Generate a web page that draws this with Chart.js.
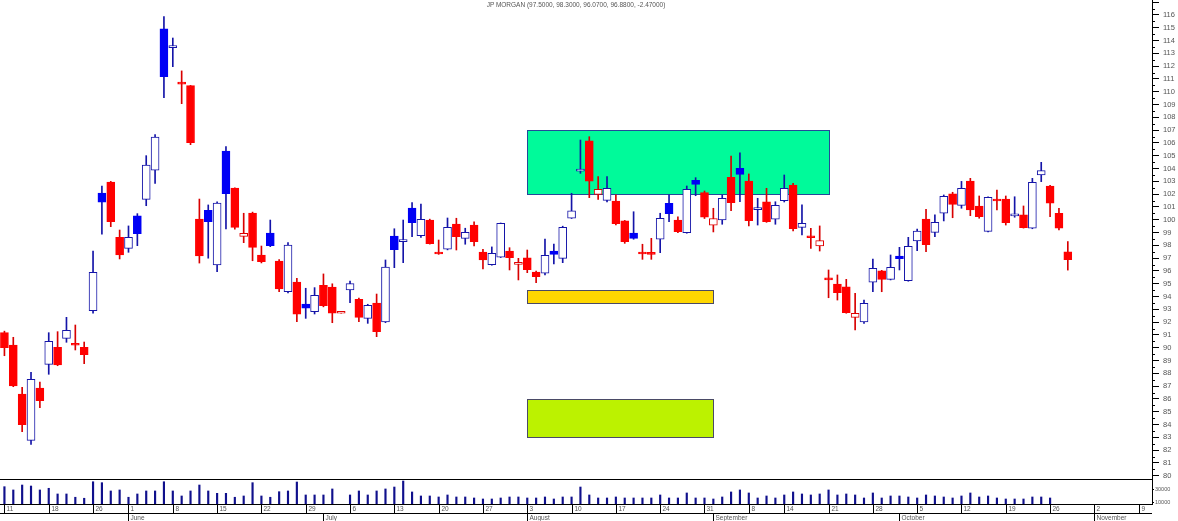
<!DOCTYPE html>
<html>
<head>
<meta charset="utf-8">
<title>JP MORGAN</title>
<script src="https://cdn.jsdelivr.net/npm/chart.js@4.4.1/dist/chart.umd.min.js"></script>
<style>
    html, body { margin: 0; padding: 0; background: #fff; }
    #wrap { position: relative; width: 1178px; height: 521px; overflow: hidden; }
    #priceChart { position: absolute; left: 0; top: 0; }
    #volumeChart { position: absolute; left: 0; top: 479px; }
    #title {
        position: absolute; left: 0; top: 1px; width: 1152px; text-align: center;
        font: 6.5px "Liberation Sans", Arial, sans-serif; color: #555; z-index: 2;
    }
</style>
</head>
<body>
<div id="wrap">
    <canvas id="priceChart" width="1178" height="490"></canvas>
    <canvas id="volumeChart" width="1178" height="42"></canvas>
    <div id="title"></div>
</div>
<script>
const stockName = "JP MORGAN";

const dates = [
    "2020-05-11", "2020-05-12", "2020-05-13", "2020-05-14", "2020-05-15",
    "2020-05-18", "2020-05-19", "2020-05-20", "2020-05-21", "2020-05-22",
    "2020-05-26", "2020-05-27", "2020-05-28", "2020-05-29",
    "2020-06-01", "2020-06-02", "2020-06-03", "2020-06-04", "2020-06-05",
    "2020-06-08", "2020-06-09", "2020-06-10", "2020-06-11", "2020-06-12",
    "2020-06-15", "2020-06-16", "2020-06-17", "2020-06-18", "2020-06-19",
    "2020-06-22", "2020-06-23", "2020-06-24", "2020-06-25", "2020-06-26",
    "2020-06-29", "2020-06-30", "2020-07-01", "2020-07-02", "2020-07-03",
    "2020-07-06", "2020-07-07", "2020-07-08", "2020-07-09", "2020-07-10",
    "2020-07-13", "2020-07-14", "2020-07-15", "2020-07-16", "2020-07-17",
    "2020-07-20", "2020-07-21", "2020-07-22", "2020-07-23", "2020-07-24",
    "2020-07-27", "2020-07-28", "2020-07-29", "2020-07-30", "2020-07-31",
    "2020-08-03", "2020-08-04", "2020-08-05", "2020-08-06", "2020-08-07",
    "2020-08-10", "2020-08-11", "2020-08-12", "2020-08-13", "2020-08-14",
    "2020-08-17", "2020-08-18", "2020-08-19", "2020-08-20", "2020-08-21",
    "2020-08-24", "2020-08-25", "2020-08-26", "2020-08-27", "2020-08-28",
    "2020-08-31", "2020-09-01", "2020-09-02", "2020-09-03", "2020-09-04",
    "2020-09-08", "2020-09-09", "2020-09-10", "2020-09-11",
    "2020-09-14", "2020-09-15", "2020-09-16", "2020-09-17", "2020-09-18",
    "2020-09-21", "2020-09-22", "2020-09-23", "2020-09-24", "2020-09-25",
    "2020-09-28", "2020-09-29", "2020-09-30", "2020-10-01", "2020-10-02",
    "2020-10-05", "2020-10-06", "2020-10-07", "2020-10-08", "2020-10-09",
    "2020-10-12", "2020-10-13", "2020-10-14", "2020-10-15", "2020-10-16",
    "2020-10-19", "2020-10-20", "2020-10-21", "2020-10-22", "2020-10-23",
    "2020-10-26", "2020-10-27", "2020-10-28", "2020-10-29", "2020-10-30",
    "2020-11-02", "2020-11-03", "2020-11-04", "2020-11-05", "2020-11-06",
    "2020-11-09", "2020-11-10"
];

const openPrice = [
    91.18, 90.22, 86.39, 82.77, 86.86, 88.71, 90.04, 90.74, 90.25, 90.04,
    92.9, 102.09, 102.95, 98.63, 97.77, 100.3, 101.6, 103.87, 114.91, 113.45,
    110.65, 110.48, 100.06, 100.74, 96.47, 105.37, 102.48, 98.71, 100.53, 97.25,
    98.97, 96.78, 94.38, 95.14, 93.42, 92.82, 94.88, 94.75, 92.7, 94.52,
    93.79, 92.3, 93.5, 92.02, 98.73, 98.3, 100.92, 98.76, 99.98, 97.37,
    97.7, 99.67, 98.55, 99.59, 97.48, 96.49, 97.07, 97.56, 96.52, 97.02,
    95.92, 95.82, 97.55, 96.99, 100.12, 103.8, 106.16, 101.99, 101.52, 101.47,
    99.91, 98.97, 97.37, 97.32, 98.48, 101.29, 99.98, 98.99, 103.09, 102.12,
    99.57, 99.98, 103.32, 104.02, 103.03, 100.8, 101.41, 100.04, 101.49, 102.72,
    99.41, 98.65, 97.95, 95.35, 94.98, 94.77, 92.38, 92.02, 95.12, 96.02,
    95.35, 97.17, 95.24, 98.34, 100.06, 99.02, 100.51, 102.02, 101.13, 103.03,
    101.08, 99.1, 101.52, 101.62, 100.3, 100.38, 99.34, 103.5, 102.64, 100.51,
    97.5
];

const highPrice = [
    91.3, 90.82, 86.91, 88.09, 87.33, 91.18, 91.26, 92.38, 91.78, 90.45,
    97.56, 102.64, 103.0, 99.2, 99.52, 100.48, 105.01, 106.65, 115.87, 114.2,
    111.63, 110.5, 101.62, 101.16, 101.41, 105.71, 102.5, 100.51, 100.6, 97.95,
    99.98, 96.9, 98.21, 95.43, 94.65, 94.7, 95.77, 95.0, 92.7, 95.22,
    93.88, 93.4, 94.2, 96.86, 99.3, 99.98, 101.34, 101.23, 100.05, 98.42,
    100.14, 100.12, 99.34, 99.85, 97.7, 97.88, 99.75, 97.82, 96.99, 97.64,
    96.0, 98.5, 98.11, 99.5, 102.07, 106.23, 106.49, 103.37, 103.37, 101.94,
    99.95, 100.63, 98.09, 98.55, 100.51, 101.94, 100.24, 102.64, 103.29, 102.25,
    100.9, 101.94, 104.98, 105.24, 103.58, 101.68, 102.46, 101.41, 103.5, 102.85,
    101.16, 99.33, 99.52, 96.08, 95.69, 95.35, 94.26, 93.73, 96.94, 96.05,
    97.25, 97.85, 98.63, 99.28, 100.82, 100.38, 101.94, 102.15, 103.0, 103.24,
    101.86, 101.8, 102.33, 101.86, 101.8, 101.08, 103.24, 104.49, 102.7, 100.9,
    98.3
];

const lowPrice = [
    89.38, 86.96, 83.45, 82.46, 85.32, 87.93, 88.6, 90.43, 89.83, 88.76,
    92.7, 98.87, 99.46, 96.94, 97.46, 97.98, 101.1, 102.85, 109.54, 111.96,
    109.07, 105.87, 96.62, 97.0, 95.95, 99.28, 99.26, 98.21, 96.8, 96.63,
    97.9, 94.38, 94.28, 92.04, 92.3, 92.64, 93.2, 91.96, 92.7, 93.52,
    92.04, 91.91, 90.87, 91.96, 96.26, 96.65, 98.68, 98.63, 98.1, 97.3,
    97.65, 97.64, 98.09, 97.95, 96.16, 96.45, 97.05, 96.08, 95.3, 95.87,
    95.09, 95.69, 96.55, 96.65, 100.1, 103.63, 101.73, 101.6, 101.39, 99.6,
    98.16, 98.48, 96.91, 96.91, 97.43, 99.85, 99.0, 98.95, 101.88, 100.1,
    99.05, 99.65, 100.71, 101.41, 99.52, 99.59, 99.8, 99.65, 101.39, 99.13,
    98.81, 97.77, 97.56, 93.91, 93.73, 92.7, 91.39, 91.91, 94.38, 94.38,
    95.3, 96.08, 95.2, 97.59, 97.51, 98.68, 99.91, 100.16, 100.9, 100.32,
    100.12, 99.05, 100.77, 99.59, 100.2, 99.35, 99.3, 102.98, 100.24, 99.2,
    96.07
];

const closePrice = [
    90.01, 87.02, 83.99, 87.54, 85.87, 90.51, 88.66, 91.37, 90.2, 89.46,
    95.9, 101.37, 99.85, 97.25, 98.63, 98.91, 104.28, 106.47, 111.18, 113.5,
    110.6, 106.02, 97.17, 99.85, 101.31, 102.04, 99.41, 98.95, 97.85, 96.73,
    97.98, 94.59, 98.03, 92.62, 93.09, 94.1, 93.29, 92.7, 92.7, 95.01,
    92.38, 93.32, 91.26, 96.31, 97.66, 98.35, 99.77, 100.04, 98.13, 97.33,
    99.41, 98.68, 99.02, 98.29, 96.86, 97.38, 99.73, 97.04, 96.68, 96.1,
    95.56, 97.23, 97.3, 99.41, 100.69, 103.85, 103.01, 102.38, 102.46, 99.7,
    98.29, 98.55, 97.33, 97.3, 100.12, 100.48, 99.07, 102.38, 102.77, 100.2,
    100.1, 101.68, 101.34, 103.55, 99.93, 100.84, 99.85, 101.13, 102.46, 99.3,
    99.73, 98.6, 98.37, 95.3, 94.3, 92.74, 92.7, 93.48, 96.21, 95.35,
    96.29, 96.96, 97.93, 99.12, 98.05, 99.8, 101.84, 101.21, 102.46, 100.77,
    100.24, 101.76, 101.47, 99.77, 100.34, 99.38, 102.93, 103.84, 101.29, 99.35,
    96.88
];

// volume in thousands of shares
const volume = [
    33900, 29000, 36400, 34900, 29000, 31500, 23000, 23000, 18100, 16600,
    41300, 39900, 27500, 29000, 18100, 23000, 27500, 27500, 41300, 27500,
    20000, 27500, 36400, 27500, 24000, 24000, 18100, 20000, 39900, 20000,
    18100, 26400, 27500, 40900, 21500, 21500, 21500, 30500, null, 21500,
    27500, 21500, 27500, 30500, 33400, 42400, 26000, 20000, 20000, 18500,
    21500, 18500, 18500, 17000, 15500, 15500, 17000, 18500, 18500, 17000,
    17000, 18500, 15500, 18500, 18500, 33400, 21500, 17000, 17000, 18500,
    17000, 17000, 17000, 17000, 21500, 17000, 17000, 24500, 17000, 17000,
    15500, 18500, 26000, 29000, 24500, 17000, 20000, 17000, 21500, 26000,
    23000, 21500, 23000, 29000, 21500, 23000, 21500, 17000, 24500, 17000,
    20000, 20000, 18500, 17000, 21500, 20000, 18500, 17000, 20000, 24500,
    18500, 20000, 17000, 15500, 15500, 15500, 18500, 18500, 17000, null,
    null
];

const priceTicks = [
    80, 81, 82, 83, 84, 85, 86, 87, 88, 89, 90, 91, 92, 93, 94, 95, 96, 97, 98,
    99, 100, 101, 102, 103, 104, 105, 106, 107, 108, 109, 110, 111, 112, 113,
    114, 115, 116, 117
];
const volumeTicks = [10000, 30000];

const monthNames = [
    "January", "February", "March", "April", "May", "June", "July",
    "August", "September", "October", "November", "December"
];

// boxes drawn on the price panel (index range, price range)
const zoneFrom = [59, 59, 59];
const zoneTo = [93, 80, 80];
const zoneLow = [102, 93.5, 83];
const zoneHigh = [107, 94.5, 86];

document.addEventListener("DOMContentLoaded", function () {
    const axisFont = "\"Liberation Sans\", Arial, sans-serif";
    const zoneColors = [
        { fill: "#00fa9a", line: "#24489a" },
        { fill: "#ffd700", line: "#4a4a66" },
        { fill: "#bcf200", line: "#4a4a66" }
    ];

    const last = closePrice.length - 1;
    document.getElementById("title").textContent = stockName + " (" +
        openPrice[last].toFixed(4) + ", " + highPrice[last].toFixed(4) + ", " +
        lowPrice[last].toFixed(4) + ", " + closePrice[last].toFixed(4) + ", " +
        (closePrice[last] - closePrice[last - 1]).toFixed(5) + ")";

    // hollow = closed above open, blue = closed above previous close
    const hollow = closePrice.map((c, i) => c >= openPrice[i]);
    const up = closePrice.map((c, i) => c > (i ? closePrice[i - 1] : openPrice[i]));
    const bodyFill = closePrice.map((c, i) => hollow[i] ? "#ffffff" : (up[i] ? "#0000f5" : "#ff0000"));
    const bodyLine = closePrice.map((c, i) => up[i] ? (hollow[i] ? "#1414a8" : "#0000f5") : (hollow[i] ? "#e00000" : "#ff0000"));
    const wickColor = closePrice.map((c, i) => up[i] ? "#1414a8" : "#d80000");

    const zonePlugin = {
        id: "zones",
        beforeDatasetsDraw(chart) {
            const ctx = chart.ctx;
            const xs = chart.scales.x;
            const ys = chart.scales.y;
            ctx.save();
            zoneFrom.forEach((from, k) => {
                const x0 = Math.round(xs.getPixelForValue(from)) + 0.5;
                const x1 = Math.round(xs.getPixelForValue(zoneTo[k])) + 0.5;
                const y0 = Math.round(ys.getPixelForValue(zoneHigh[k])) + 0.5;
                const y1 = Math.round(ys.getPixelForValue(zoneLow[k])) + 0.5;
                ctx.fillStyle = zoneColors[k].fill;
                ctx.fillRect(x0, y0, x1 - x0, y1 - y0);
                ctx.strokeStyle = zoneColors[k].line;
                ctx.lineWidth = 1;
                ctx.strokeRect(x0, y0, x1 - x0, y1 - y0);
            });
            ctx.restore();
        },
        afterDraw(chart) {
            // half-point minor ticks on the price axis
            const ctx = chart.ctx;
            const ys = chart.scales.y;
            const right = chart.chartArea.right;
            ctx.save();
            ctx.strokeStyle = "#000";
            ctx.lineWidth = 1;
            ctx.beginPath();
            priceTicks.slice(0, -1).forEach(v => {
                const py = Math.round(ys.getPixelForValue(v + 0.5)) + 0.5;
                ctx.moveTo(right, py);
                ctx.lineTo(right + 3, py);
            });
            ctx.stroke();
            ctx.restore();
        }
    };

    const dateAxisPlugin = {
        id: "dateAxis",
        afterDraw(chart) {
            const ctx = chart.ctx;
            const area = chart.chartArea;
            const xs = chart.scales.x;
            const rowTop = Math.round(area.bottom) + 0.5;
            const rowMid = rowTop + 9;
            const rowEnd = chart.height;
            ctx.save();
            ctx.strokeStyle = "#000";
            ctx.lineWidth = 1;
            ctx.beginPath();
            [Math.round(area.top) + 0.5, rowTop, rowMid].forEach(y => {
                ctx.moveTo(0, y);
                ctx.lineTo(area.right, y);
            });
            ctx.stroke();
            ctx.font = "6.5px " + axisFont;
            ctx.fillStyle = "#555";
            ctx.textBaseline = "middle";
            ctx.textAlign = "left";
            dates.forEach((d, i) => {
                const px = Math.round(xs.getPixelForValue(i)) + 0.5;
                if (px > area.right) {
                    return;
                }
                const day = new Date(d + "T00:00:00Z");
                const prev = i ? new Date(dates[i - 1] + "T00:00:00Z") : null;
                if (!prev || day.getUTCDay() < prev.getUTCDay()) {
                    ctx.beginPath();
                    ctx.moveTo(px, rowTop);
                    ctx.lineTo(px, rowMid);
                    ctx.stroke();
                    ctx.fillText(String(day.getUTCDate()), px + 2, (rowTop + rowMid) / 2 + 0.5);
                }
                if (prev && day.getUTCMonth() !== prev.getUTCMonth()) {
                    ctx.beginPath();
                    ctx.moveTo(px, rowMid);
                    ctx.lineTo(px, rowEnd);
                    ctx.stroke();
                    ctx.fillText(monthNames[day.getUTCMonth()], px + 2, (rowMid + rowEnd) / 2 + 0.5);
                }
            });
            ctx.restore();
        }
    };

    const priceCtx = document.getElementById("priceChart");

    if (priceCtx) {
        new Chart(priceCtx, {
            type: "bar",
            data: {
                labels: dates,
                datasets: [{
                    label: "Body",
                    data: openPrice.map((o, i) => [o, closePrice[i]]),
                    backgroundColor: bodyFill,
                    borderColor: bodyLine,
                    borderWidth: 1,
                    borderSkipped: false,
                    barThickness: 8,
                    minBarLength: 2,
                    grouped: false,
                    order: 0
                }, {
                    label: "Range",
                    data: lowPrice.map((l, i) => [l, highPrice[i]]),
                    backgroundColor: wickColor,
                    borderWidth: 0,
                    barThickness: 1,
                    grouped: false,
                    order: 1
                }]
            },
            options: {
                responsive: false,
                animation: false,
                events: [],
                layout: { padding: { left: 0, right: 0, top: 0, bottom: 11 } },
                plugins: {
                    legend: { display: false },
                    tooltip: { enabled: false }
                },
                scales: {
                    x: { type: "category", offset: true, display: false },
                    y: {
                        position: "right",
                        min: 79.75,
                        max: 117.17,
                        afterBuildTicks: scale => {
                            scale.ticks = priceTicks.map(v => ({ value: v }));
                        },
                        afterFit: scale => {
                            scale.width = 26;
                            scale.paddingTop = 0;
                            scale.paddingBottom = 0;
                        },
                        border: { display: true, color: "#000", width: 1 },
                        grid: { drawOnChartArea: false, tickLength: 7, tickColor: "#000" },
                        ticks: {
                            autoSkip: false,
                            padding: 4,
                            color: "#555",
                            font: { family: axisFont, size: 7.5 },
                            callback: value => value <= 116 ? String(value) : ""
                        }
                    }
                }
            },
            plugins: [zonePlugin]
        });
    }

    const volumeCtx = document.getElementById("volumeChart");

    if (volumeCtx) {
        new Chart(volumeCtx, {
            type: "bar",
            data: {
                labels: dates,
                datasets: [{
                    label: "Volume",
                    data: volume,
                    backgroundColor: "#10108c",
                    barThickness: 1.5,
                    base: 8000
                }]
            },
            options: {
                responsive: false,
                animation: false,
                events: [],
                layout: { padding: { left: 0, right: 0, top: 0, bottom: 17 } },
                plugins: {
                    legend: { display: false },
                    tooltip: { enabled: false }
                },
                scales: {
                    x: { type: "category", offset: true, display: false },
                    y: {
                        position: "right",
                        min: 8000,
                        max: 45400,
                        afterBuildTicks: scale => {
                            scale.ticks = volumeTicks.map(v => ({ value: v }));
                        },
                        afterFit: scale => {
                            scale.width = 26;
                            scale.paddingTop = 0;
                            scale.paddingBottom = 0;
                        },
                        border: { display: true, color: "#000", width: 1 },
                        grid: { drawOnChartArea: false, tickLength: 2, tickColor: "#000" },
                        ticks: {
                            autoSkip: false,
                            padding: 1,
                            color: "#555",
                            font: { family: axisFont, size: 5.5 },
                            callback: value => String(value)
                        }
                    }
                }
            },
            plugins: [dateAxisPlugin]
        });
    }
});
</script>
</body>
</html>
